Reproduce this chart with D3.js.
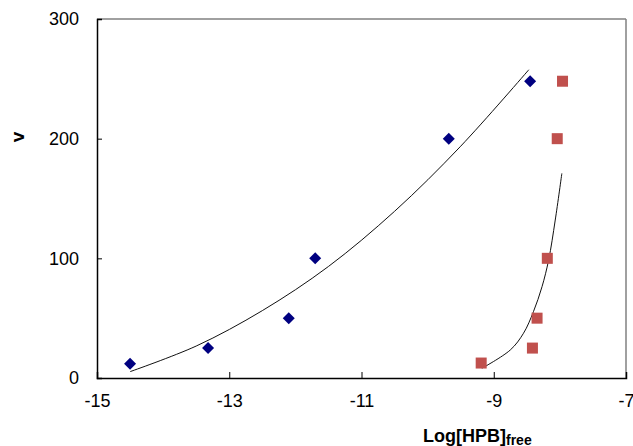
<!DOCTYPE html>
<html><head><meta charset="utf-8">
<script src="https://cdn.jsdelivr.net/npm/d3@7"></script>
<style>body{margin:0;background:#fff}svg{display:block}text{font-family:Arial,"Liberation Sans",sans-serif}</style>
</head><body>
<svg id="c" width="633" height="446"></svg>
<script>
// Data
const blueX = [-14.5, -13.32, -12.1, -11.7, -9.68, -8.45];
const blueY = [12, 25, 50, 100, 200, 248];
const redX = [-9.19, -8.415, -8.345, -8.19, -8.04, -7.96];
const redY = [12.5, 25, 50, 100, 200, 248];
// trend curves
const blueFitX = [-14.5, -13.5, -12.5, -11.5, -10.5, -9.5, -8.47];
const blueFitY = [5.3, 26.7, 56.3, 93.2, 139.3, 193.7, 257.6];
const redFitX = [-9.18, -8.75, -8.55, -8.4, -8.27, -8.17, -8.07, -7.97];
const redFitY = [8.1, 23.4, 37.4, 55.4, 76.3, 98.6, 132, 171];
const xTicks = [-15, -13, -11, -9, -7];
const yTicks = [0, 100, 200, 300];

const svg = d3.select("#c");
const x = d3.scaleLinear().domain([-15, -7]).range([97, 626]);
const y = d3.scaleLinear().domain([0, 300]).range([378, 19]);

// frame: top/right gray
svg.append("line").attr("x1", x(-15)).attr("x2", x(-7)).attr("y1", y(300)).attr("y2", y(300)).attr("stroke", "#808080").attr("stroke-width", 1.5);
svg.append("line").attr("x1", x(-7)).attr("x2", x(-7)).attr("y1", y(300)).attr("y2", y(0)).attr("stroke", "#808080").attr("stroke-width", 1.5);

// axes (ticks inward)
const gx = svg.append("g").attr("transform", `translate(0,${y(0)})`)
  .call(d3.axisBottom(x).tickValues(xTicks).tickSize(-6).tickPadding(16).tickFormat(d => String(d)));
const gy = svg.append("g").attr("transform", `translate(${x(-15)},0)`)
  .call(d3.axisLeft(y).tickValues(yTicks).tickSize(-5).tickPadding(18).tickFormat(d => String(d)));
[gx, gy].forEach(g => {
  g.select(".domain").attr("stroke", "#000").attr("stroke-width", 1.5);
  g.selectAll(".tick line").attr("stroke", "#000");
  g.selectAll(".tick text").attr("font-size", 18).attr("fill", "#000").attr("font-family", "Arial, 'Liberation Sans', sans-serif");
});
gx.selectAll(".tick").filter(d => d === -7).select("line").remove();
gy.selectAll(".tick").filter(d => d === 0 || d === 300).select("line").remove();

// fit curves
const line = d3.line().x(d => x(d[0])).y(d => y(d[1])).curve(d3.curveCatmullRom);
svg.append("path").datum(blueFitX.map((v, i) => [v, blueFitY[i]]))
  .attr("d", line).attr("fill", "none").attr("stroke", "#111").attr("stroke-width", 1);
svg.append("path").datum(redFitX.map((v, i) => [v, redFitY[i]]))
  .attr("d", line).attr("fill", "none").attr("stroke", "#111").attr("stroke-width", 1);

// markers
svg.append("g").selectAll("path").data(blueX.map((v, i) => [v, blueY[i]])).join("path")
  .attr("transform", d => `translate(${x(d[0])},${y(d[1])})`)
  .attr("d", "M0,-6L6,0L0,6L-6,0Z").attr("fill", "#000080");
svg.append("g").selectAll("rect").data(redX.map((v, i) => [v, redY[i]])).join("rect")
  .attr("x", d => x(d[0]) - 5.5).attr("y", d => y(d[1]) - 5.5)
  .attr("width", 11).attr("height", 11).attr("fill", "#C0504D");

// axis titles
svg.append("text").attr("transform", "translate(24,137) rotate(-90)")
  .attr("text-anchor", "middle").attr("font-size", 19).attr("font-weight", "bold").text("v");
const t = svg.append("text").attr("x", 423).attr("y", 442).attr("font-size", 18).attr("font-weight", "bold");
t.append("tspan").text("Log[HPB]");
t.append("tspan").attr("font-size", 14).attr("dy", 3).text("free");
</script>
</body></html>
